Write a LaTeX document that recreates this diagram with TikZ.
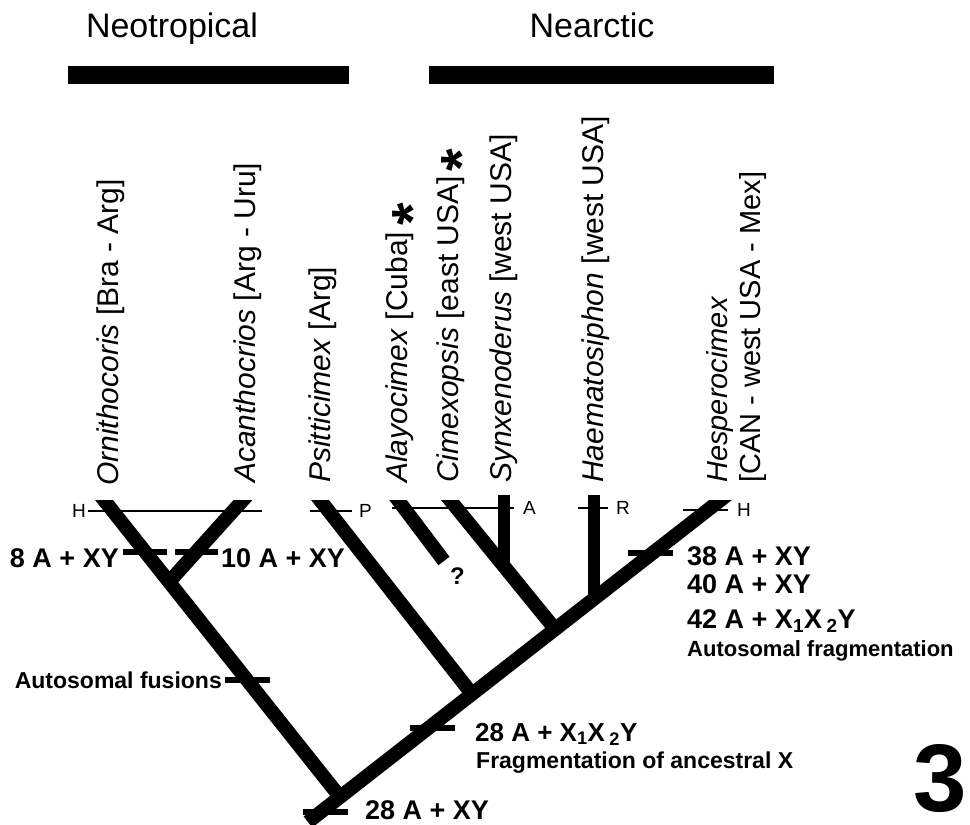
\documentclass[tikz,border=0pt]{standalone}
\usepackage{fontspec}
\setmainfont{Liberation Sans}
\usetikzlibrary{calc}
\newcommand{\fsz}[1]{\fontsize{#1}{#1}\selectfont}

\begin{document}
\begin{tikzpicture}[x=1pt, y=-1pt,
  branch/.style={line width=14pt},
  chrombar/.style={line width=6pt},
  hostline/.style={line width=2pt},
  taxon/.style={rotate=90, anchor=base west, inner sep=0pt, font=\fsz{30}},
  karyo/.style={inner sep=0pt, font=\bfseries\fsz{27}},
  note/.style={inner sep=0pt, font=\bfseries\fsz{23}},
  host/.style={inner sep=0pt, font=\fsz{19}},
  star/.style={rotate=90, inner sep=0pt, font=\bfseries\fsz{58}}]
  \useasboundingbox (0,0) rectangle (970,825);
  % regions
  \fill (68,66) rectangle (349,84);
  \fill (429,66) rectangle (774,84);
  \node[anchor=base, inner sep=0pt, font=\fsz{34}] (neo) at (172,37) {Neotropical};
  \node[anchor=base, inner sep=0pt, font=\fsz{34}] (nea) at (592,37) {Nearctic};
  % tips and forks
  \coordinate (tOrn) at (104,500);
  \coordinate (tAca) at (243,500);
  \coordinate (tPsi) at (320,500);
  \coordinate (tAla) at (398,500);
  \coordinate (eAla) at (444,561);
  \coordinate (tCim) at (450,500);
  \coordinate (tSyn) at (504,495);
  \coordinate (tHae) at (594,495);
  \coordinate (tHes) at (718,502);
  \coordinate (jOrn) at (169,582);
  \coordinate (root) at (340,797);
  \coordinate (stem) at (308,822);
  \coordinate (jPsi) at (472,694);
  \coordinate (jCim) at (555,629);
  \coordinate (jSyn) at (504,567);
  \coordinate (jHae) at (594,600);
  % the tree
  \begin{scope}
    \clip (0,500) rectangle (970,825);
    \draw[branch, shorten <=-12pt] (tOrn) -- (root);
    \draw[branch, shorten <=-12pt] (tAca) -- (jOrn);
    \draw[branch, shorten >=-12pt] (stem) -- (tHes);
    \draw[branch, shorten <=-12pt] (tPsi) -- (jPsi);
    \draw[branch, shorten <=-12pt] (tAla) -- (eAla);
    \draw[branch, shorten <=-12pt] (tCim) -- (jCim);
  \end{scope}
  \draw[line width=12pt] (tSyn) -- (jSyn);
  \draw[line width=12pt] (tHae) -- (jHae);
  % host lines
  \node[host, anchor=east] (hOrn) at (86,511) {H};
  \draw[hostline] (hOrn.east) ++(2,0) -- (262,511);
  \node[host, anchor=west] (hPsi) at (359,511) {P};
  \draw[hostline] (310,511) -- ($(hPsi.west)+(-7,0)$);
  \node[host, anchor=west] (hSyn) at (523,508) {A};
  \draw[hostline] (392,508) -- ($(hSyn.west)+(-9,0)$);
  \node[host, anchor=west] (hHae) at (616,508) {R};
  \draw[hostline] (578,508) -- ($(hHae.west)+(-8,0)$);
  \node[host, anchor=west] (hHes) at (737,510) {H};
  \draw[hostline] (683,510) -- ($(hHes.west)+(-9,0)$);
  % chromosome changes
  \path (tOrn) -- (root) coordinate[pos=0.175] (kOrn) coordinate[pos=0.606] (kFus);
  \path (tAca) -- (jOrn) coordinate[pos=0.634] (kAca);
  \path (stem) -- (tHes) coordinate[pos=0.031] (kRoot) coordinate[pos=0.294] (kCim) coordinate[pos=0.841] (kHes);
  \draw[chrombar] ($(kOrn)+(-22,0)$) -- ($(kOrn)+(22,0)$);
  \draw[chrombar] ($(kAca)+(-21,0)$) -- ($(kAca)+(22,0)$);
  \draw[chrombar] ($(kFus)+(-22,0)$) -- ($(kFus)+(23,0)$);
  \draw[chrombar] ($(kRoot)+(-18,0)$) -- ($(kRoot)+(27,0)$);
  \draw[chrombar] ($(kCim)+(-19,0)$) -- ($(kCim)+(26,0)$);
  \draw[chrombar] ($(kHes)+(-25,0)$) -- ($(kHes)+(20,0)$);
  \node[karyo, anchor=base east] (k8) at (119,567) {8 A + XY};
  \node[karyo, anchor=base west] (k10) at (221,567) {10 A + XY};
  \node[note, anchor=base east] (fus) at (222,688) {Autosomal fusions};
  \node[karyo, anchor=base west] (k38) at (687,565) {38 A + XY};
  \node[karyo, anchor=base west] (k40) at (687,593) {40 A + XY};
  \node[karyo, anchor=base west] (k42) at (687,628) {42 A + X\textsubscript{1}X\,\textsubscript{2}Y};
  \node[note, font=\bfseries\fsz{22}, anchor=base west] (frag) at (687,656) {Autosomal fragmentation};
  \node[karyo, font=\bfseries\fsz{26}, anchor=base west] (k28x) at (475,741) {28 A + X\textsubscript{1}X\,\textsubscript{2}Y};
  \node[note, anchor=base west] (fragx) at (476,768) {Fragmentation of ancestral X};
  \node[karyo, anchor=base west] (k28) at (365,819) {28 A + XY};
  \node[note, font=\bfseries\fsz{24}, anchor=base west] (qm) at (450,584) {?};
  \node[inner sep=0pt, anchor=base, font=\bfseries\fsz{96}] (fig) at (940,811) {3};
  % taxa
  \node[taxon] (nOrn) at (118,486) {\textit{Ornithocoris} [Bra - Arg]};
  \node[taxon] (nAca) at (255,483) {\textit{Acanthocrios} [Arg - Uru]};
  \node[taxon] (nPsi) at (330,483) {\textit{Psitticimex} [Arg]};
  \node[taxon] (nAla) at (407,483) {\textit{Alayocimex} [Cuba]};
  \node[taxon] (nCim) at (458,483) {\textit{Cimexopsis} [east USA]};
  \node[taxon] (nSyn) at (511,483) {\textit{Synxenoderus} [west USA]};
  \node[taxon] (nHae) at (603,483) {\textit{Haematosiphon} [west USA]};
  \node[taxon, font=\fsz{29}] (nHes) at (727,483) {\textit{Hesperocimex}};
  \node[taxon, font=\fsz{29}] (nHes2) at (760,483) {[CAN - west USA - Mex]};
  \node[star] (sAla) at (413,214) {*};
  \node[star] (sCim) at (462,160) {*};
\end{tikzpicture}
\end{document}
